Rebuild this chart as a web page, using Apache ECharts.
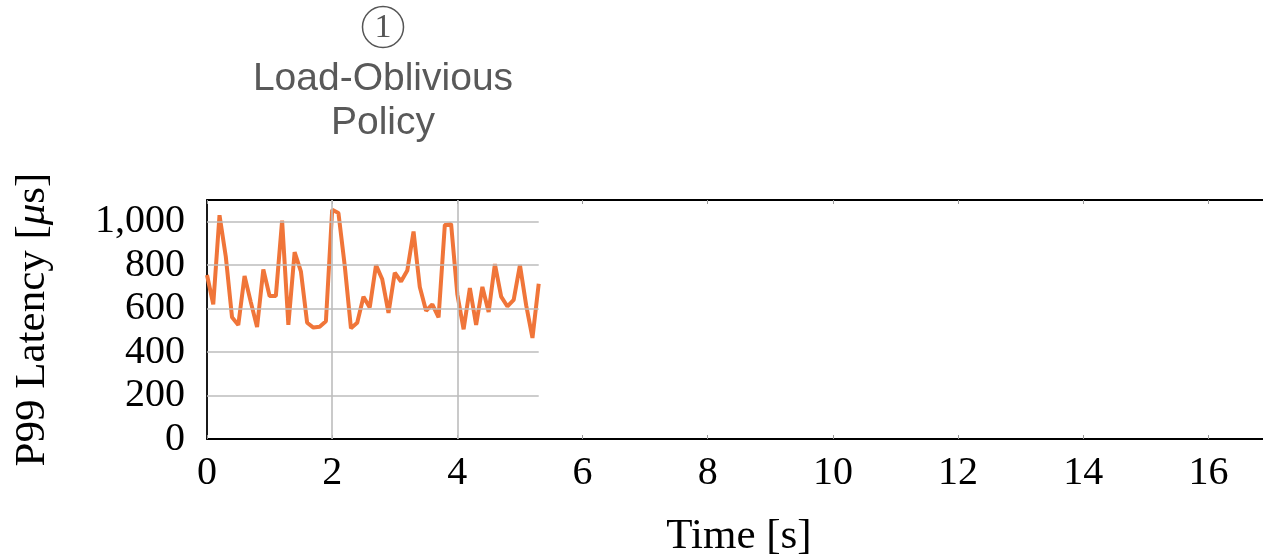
<!DOCTYPE html>
<html>
<head>
<meta charset="utf-8">
<script src="https://cdn.jsdelivr.net/npm/echarts@6/dist/echarts.min.js"></script>
<style>
html, body { margin: 0; padding: 0; background: #fff; overflow: hidden; }
#chart { width: 1300px; height: 559px; }
</style>
</head>
<body>
<div id="chart"></div>
<script>
// Time stamps [s]
const times = [0.0,0.1,0.2,0.3,0.4,0.5,0.6,0.7,0.8,0.9,
               1.0,1.1,1.2,1.3,1.4,1.5,1.6,1.7,1.8,1.9,
               2.0,2.1,2.2,2.3,2.4,2.5,2.6,2.7,2.8,2.9,
               3.0,3.1,3.2,3.3,3.4,3.5,3.6,3.7,3.8,3.9,
               4.0,4.1,4.2,4.3,4.4,4.5,4.6,4.7,4.8,4.9,
               5.0,5.1,5.2,5.3];
// P99 latency [µs]
const latency = [755,620,1030,840,560,525,750,630,515,780,
                 658,658,1005,525,860,772,535,513,517,542,
                 1055,1040,800,510,535,655,605,800,735,580,
                 765,725,775,955,700,590,620,560,985,990,
                 665,505,695,525,700,585,805,655,610,640,
                 800,615,465,715];
const xTicks = [0,2,4,6,8,10,12,14,16];
const yTicks = [0,200,400,600,800,1000];
const xMax = 17;
const yMax = 1100;
const gridX = [2,4];
const annotationNum = '1';
const annotationText = 'Load-Oblivious\nPolicy';

const seriesData = times.map((t,i) => [t, latency[i]]);
const tEnd = times[times.length-1];

const gridLines = [];
yTicks.filter(v => v > 0).forEach(v => gridLines.push([{coord:[0,v]},{coord:[tEnd,v]}]));
gridX.forEach(v => gridLines.push([{coord:[v,0]},{coord:[v,yMax]}]));

const serif = 'Liberation Serif';
const chart = echarts.init(document.getElementById('chart'), null, {renderer:'canvas'});
chart.setOption({
  animation: false,
  backgroundColor: '#fff',
  grid: { left: 207, top: 200, right: 29, bottom: 118, containLabel: false },
  xAxis: [{
    type: 'value', min: 0, max: xMax, interval: 2, position: 'bottom',
    name: 'Time [s]', nameLocation: 'middle', nameGap: 76,
    nameTextStyle: { fontFamily: serif, fontSize: 43, color: '#000' },
    axisLine: { show: true, lineStyle: { color: '#000', width: 1.8 } },
    axisTick: { show: true, inside: true, length: 4, lineStyle: { color: '#999', width: 1 } },
    axisLabel: { show: true, showMaxLabel: false, margin: 14, fontFamily: serif, fontSize: 40, color: '#000',
      formatter: v => xTicks.includes(v) ? String(v) : '' },
    splitLine: { show: false }
  },{
    type: 'value', min: 0, max: xMax, interval: 2, position: 'top',
    axisLine: { show: true, lineStyle: { color: '#000', width: 1.8 } },
    axisTick: { show: true, inside: true, length: 4, lineStyle: { color: '#999', width: 1 } },
    axisLabel: { show: false },
    splitLine: { show: false }
  }],
  yAxis: {
    type: 'value', min: 0, max: yMax, interval: 200,
    name: 'P99 Latency [{i|μ}s]', nameLocation: 'middle', nameGap: 153, nameRotate: 90,
    nameTextStyle: { fontFamily: serif, fontSize: 43, color: '#000',
      rich: { i: { fontFamily: serif, fontStyle: 'italic', fontSize: 43, color: '#000' } } },
    axisLine: { show: true, lineStyle: { color: '#000', width: 1.8 } },
    axisTick: { show: false },
    axisLabel: { show: true, showMaxLabel: false, margin: 22, fontFamily: serif, fontSize: 40, color: '#000',
      formatter: v => yTicks.includes(v) ? v.toLocaleString('en-US') : '' },
    splitLine: { show: false }
  },
  graphic: [
    { type: 'circle', x: 383, y: 27, shape: { cx: 0, cy: 0, r: 20.5 }, style: { fill: 'none', stroke: '#555', lineWidth: 1.5 } },
    { type: 'text', x: 383, y: 28, style: { text: annotationNum, font: '34px "Liberation Serif"', fill: '#555', align: 'center', verticalAlign: 'middle' } },
    { type: 'text', x: 383, y: 57, style: { text: annotationText, font: '39px "Liberation Sans"', fill: '#595959', align: 'center', verticalAlign: 'top', lineHeight: 44 } }
  ],
  series: [{
    type: 'line', data: [], z: 1, silent: true,
    markLine: { silent: true, symbol: ['none','none'], label: { show: false },
      lineStyle: { color: '#bdbdbd', width: 1.6, type: 'solid' }, data: gridLines, animation: false }
  },{
    type: 'line', data: seriesData, z: 3, showSymbol: false, symbol: 'none',
    lineStyle: { color: '#F07539', width: 4 }, itemStyle: { color: '#F07539' }
  }]
});
</script>
</body>
</html>
